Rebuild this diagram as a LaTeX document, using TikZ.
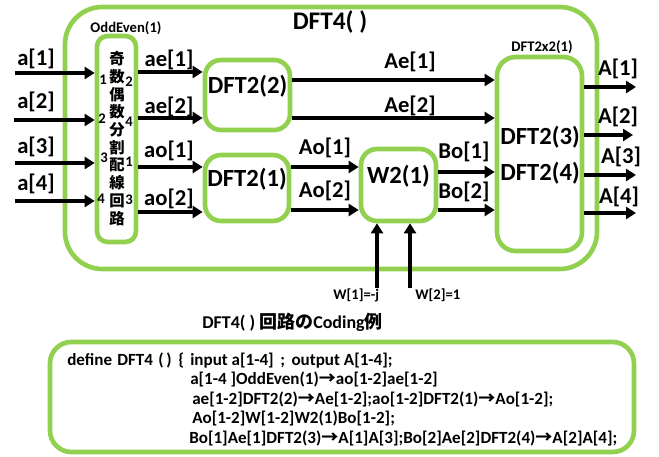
\documentclass[tikz,border=0pt]{standalone}
\usepackage{fontspec}
\setmainfont{Carlito}
\newfontfamily\cjk{Noto Sans CJK JP}
\usetikzlibrary{arrows.meta,fit}
\definecolor{gr}{RGB}{146,208,80}
\begin{document}
\begin{tikzpicture}[x=0.75pt,y=-0.75pt,
  gbox/.style={draw=gr, line width=3.5pt, inner sep=0pt, rounded corners=#1},
  gbox/.default=9pt,
  arr/.style={line width=2.5pt, -{Triangle[length=7.5pt,width=9pt]}},
  lab/.style={font=\fontsize{17}{20}\selectfont\bfseries, inner sep=0pt},
  boxtxt/.style={font=\fontsize{18.5}{22}\selectfont\bfseries},
  small/.style={font=\fontsize{11}{13}\selectfont\bfseries, inner sep=0pt},
  vch/.style={font=\fontsize{11.5}{13}\selectfont\bfseries\cjk, inner sep=0pt},
  code/.style={font=\fontsize{12.8}{15}\selectfont\bfseries, inner sep=0pt, anchor=base west}
]
\useasboundingbox (0,0) rectangle (659,456);

% boxes
\node[gbox=28pt, fit={(65,7) (597,269)}] (outer) {};
\node[font=\fontsize{19}{22}\selectfont\bfseries, inner sep=0pt] (title) at (330,22) {DFT4( )};
\node[gbox=8pt, fit={(97,36) (136,242)}] (oe) {};
\node[small] (oelab) at (126,28) {OddEven(1)};
\node[gbox=12pt, fit={(205,60) (290,130)}, boxtxt] (d22) {DFT2(2)};
\node[gbox=12pt, fit={(205,155) (289,221)}, boxtxt] (d21) {DFT2(1)};
\node[gbox=12pt, fit={(361,149) (436,221)}, boxtxt] (w2) {W2(1)};
\node[gbox=14pt, fit={(497,57) (582,251)}] (d2x2) {};
\node[small] (d2x2lab) at (542,47) {DFT2x2(1)};
\node[boxtxt, inner sep=0pt] (d23) at (540,137) {DFT2(3)};
\node[boxtxt, inner sep=0pt] (d24) at (540,173) {DFT2(4)};

% vertical characters in OddEven
\foreach \c [count=\i] in {奇,数,偶,数,分,割,配,線,回,路} {
  \node[vch] (ch\i) at (117,{59+(\i-1)*17.7}) {\c};
}
% port numbers
\node[small] (pl1) at (103,80) {1};
\node[small] (pl2) at (102,119) {2};
\node[small] (pl3) at (104,158) {3};
\node[small] (pl4) at (101,199) {4};
\node[small] (pr1) at (129,82) {2};
\node[small] (pr2) at (129,122) {4};
\node[small] (pr3) at (129,162) {1};
\node[small] (pr4) at (129,200) {3};

% level coordinates
\coordinate (in1) at (15,73);
\coordinate (in2) at (14,120);
\coordinate (in3) at (15,163);
\coordinate (in4) at (15,201);
\coordinate (Lae1) at (0,72);
\coordinate (Lae2) at (0,118);
\coordinate (Lao1) at (0,167);
\coordinate (Lao2) at (0,212);
\coordinate (LAe1) at (0,80);
\coordinate (LAe2) at (0,118);
\coordinate (LAo1) at (0,167);
\coordinate (LAo2) at (0,210);
\coordinate (LBo1) at (0,172);
\coordinate (LBo2) at (0,210);
\coordinate (out1) at (636,87);
\coordinate (out2) at (633,135);
\coordinate (out3) at (636,175);
\coordinate (out4) at (636,213);
\coordinate (w1in) at (377,288);
\coordinate (w2in) at (410,288);

% arrows
\draw[arr] (in1) -- (in1 -| oe.west);
\draw[arr] (in2) -- (in2 -| oe.west);
\draw[arr] (in3) -- (in3 -| oe.west);
\draw[arr] (in4) -- (in4 -| oe.west);
\draw[arr] (oe.east |- Lae1) -- (d22.west |- Lae1);
\draw[arr] (oe.east |- Lae2) -- (d22.west |- Lae2);
\draw[arr] (oe.east |- Lao1) -- (d21.west |- Lao1);
\draw[arr] (oe.east |- Lao2) -- (d21.west |- Lao2);
\draw[arr] (d22.east |- LAe1) -- (d2x2.west |- LAe1);
\draw[arr] (d22.east |- LAe2) -- (d2x2.west |- LAe2);
\draw[arr] (d21.east |- LAo1) -- (w2.west |- LAo1);
\draw[arr] (d21.east |- LAo2) -- (w2.west |- LAo2);
\draw[arr] (w2.east |- LBo1) -- (d2x2.west |- LBo1);
\draw[arr] (w2.east |- LBo2) -- (d2x2.west |- LBo2);
\draw[arr] (d2x2.east |- out1) -- (out1);
\draw[arr] (d2x2.east |- out2) -- (out2);
\draw[arr] (d2x2.east |- out3) -- (out3);
\draw[arr] (d2x2.east |- out4) -- (out4);
\draw[arr] (w1in) -- (w1in |- w2.south);
\draw[arr] (w2in) -- (w2in |- w2.south);

% labels
\node[lab] (la1) at (36,59) {a[1]};
\node[lab] (la2) at (36,102) {a[2]};
\node[lab] (la3) at (36,147) {a[3]};
\node[lab] (la4) at (36,184) {a[4]};
\node[lab] (lae1) at (169,60) {ae[1]};
\node[lab] (lae2) at (169,107) {ae[2]};
\node[lab] (lao1) at (169,151) {ao[1]};
\node[lab] (lao2) at (169,199) {ao[2]};
\node[lab] (lAe1) at (410,62) {Ae[1]};
\node[lab] (lAe2) at (410,106) {Ae[2]};
\node[lab] (lAo1) at (325,148) {Ao[1]};
\node[lab] (lAo2) at (325,191) {Ao[2]};
\node[lab] (lBo1) at (464,152) {Bo[1]};
\node[lab] (lBo2) at (464,192) {Bo[2]};
\node[lab] (lA1) at (618,69) {A[1]};
\node[lab] (lA2) at (618,117) {A[2]};
\node[lab] (lA3) at (621,157) {A[3]};
\node[lab] (lA4) at (619,197) {A[4]};
\node[small, anchor=west] (lw1) at (333,295) {W[1]=-j};
\node[small, anchor=west] (lw2) at (415,295) {W[2]=1};

% caption
\node[font=\fontsize{13.5}{16}\selectfont\bfseries, inner sep=0pt, anchor=west] (cap) at (202,322) {DFT4( ) {\cjk 回路の}Coding{\cjk 例}};

% code box
\node[gbox=16pt, fit={(50,342) (634,452)}] (codebox) {};
\node[code] (c1a) at (67,365) {define};
\node[code] (c1b) at (117,365) {DFT4\hspace{4pt}(\hspace{2pt})};
\node[code] (c1c) at (178,365) {\{};
\node[code] (c1d) at (190,365) {input a[1-4]\hspace{2pt} ;\hspace{2pt} output A[1-4];};
\node[code] (c2) at (190,384.5) {a[1-4 ]OddEven(1){\cjk →}ao[1-2]ae[1-2]};
\node[code] (c3) at (192,404) {ae[1-2]DFT2(2){\cjk →}Ae[1-2];ao[1-2]DFT2(1){\cjk →}Ao[1-2];};
\node[code] (c4) at (192,423.5) {Ao[1-2]W[1-2]W2(1)Bo[1-2];};
\node[code] (c5) at (189,443) {Bo[1]Ae[1]DFT2(3){\cjk →}A[1]A[3];Bo[2]Ae[2]DFT2(4){\cjk →}A[2]A[4];};
\end{tikzpicture}
\end{document}
